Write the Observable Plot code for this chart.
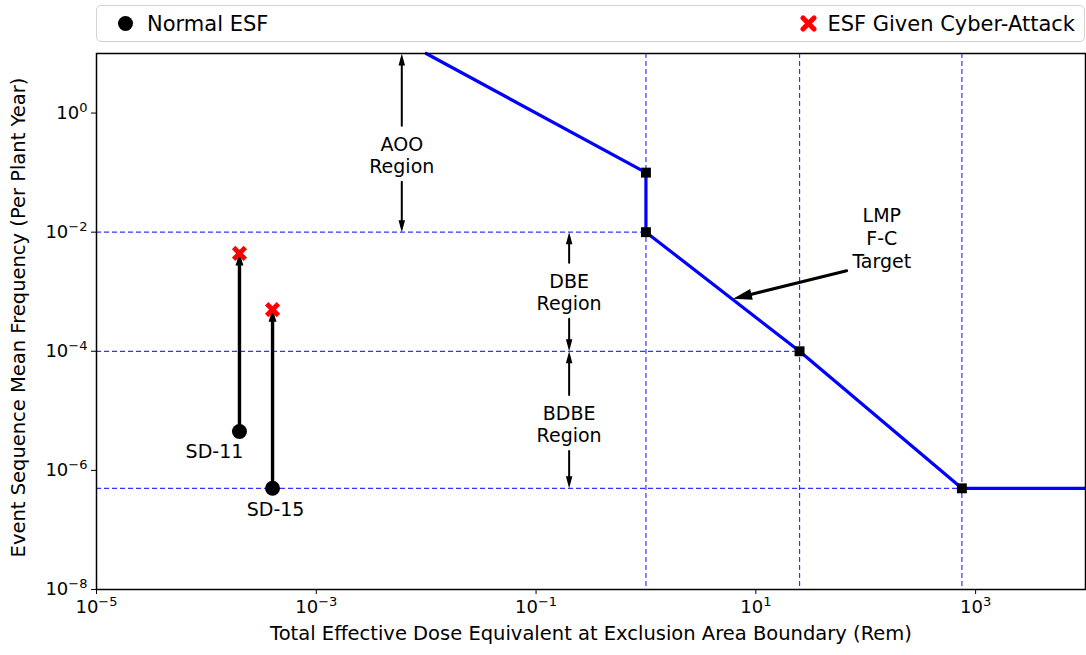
<!DOCTYPE html>
<html>
<head>
<meta charset="utf-8">
<script src="https://cdn.jsdelivr.net/npm/d3@7"></script>
<script src="https://cdn.jsdelivr.net/npm/@observablehq/plot@0.6"></script>
<style>
  html, body { margin: 0; padding: 0; background: #fff; }
  body { font-family: "DejaVu Sans", sans-serif; width: 1086px; height: 655px; position: relative; overflow: hidden; }
  #legend { position: absolute; left: 96px; top: 5px; width: 989px; height: 37px; box-sizing: border-box;
    border: 1.5px solid #d3d3d3; border-radius: 5px; display: flex; justify-content: space-between; align-items: center;
    font-size: 21px; color: #000; }
  #legend .item { display: flex; align-items: center; }
  #legend .left { padding-left: 20px; }
  #legend .left svg { margin-right: 13px; }
  #legend .right { padding-right: 9px; }
  #legend .right svg { margin-right: 10px; }
  #chart { position: absolute; left: 0; top: 46px; }
</style>
</head>
<body>
<div id="legend">
  <span class="item left"><svg width="17" height="17"><circle cx="8.5" cy="8.5" r="7.5" fill="black"/></svg>Normal ESF</span>
  <span class="item right"><svg width="17" height="17"><path d="M3,3L14,14M14,3L3,14" stroke="red" stroke-width="5" stroke-linecap="round"/></svg>ESF Given Cyber-Attack</span>
</div>
<div id="chart"></div>
<script>
// ---- Data ----
const scenarios = ["SD-11", "SD-15"];
const scenarioDose = [2e-4, 4e-4];          // rem
const normalFreq = [4.5e-6, 5e-7];          // per plant year
const cyberFreq = [4.4e-3, 5e-4];

// LMP frequency-consequence target curve
const fcDose = [0.01, 1, 1, 25, 750, 1e4];
const fcFreq = [10, 0.1, 0.01, 1e-4, 5e-7, 5e-7];
const cornerDose = [1, 1, 25, 750];
const cornerFreq = [0.1, 0.01, 1e-4, 5e-7];

// Region boundaries (dashed reference lines)
const boundaryFreq = [1e-2, 1e-4, 5e-7];
const boundaryDose = [1, 25, 750];

// Region annotations
const regionLabels = ["AOO\nRegion", "DBE\nRegion", "BDBE\nRegion"];
const regionDose = [0.006, 0.2, 0.2];
const regionMid = [0.2, 1e-3, 6e-6];
const regionTop = [10, 1e-2, 1e-4];
const regionBottom = [1e-2, 1e-4, 5e-7];

// LMP F-C target annotation
const lmpLabel = "LMP\nF-C\nTarget";
const lmpTextPos = [140, 8e-3];
const lmpArrowTail = [67, 2.25e-3];
const lmpArrowTip = [6.2, 7.6e-4];

const xTicks = [1e-5, 1e-3, 1e-1, 1e1, 1e3];
const yTicks = [1e0, 1e-2, 1e-4, 1e-6, 1e-8];
const xLabel = "Total Effective Dose Equivalent at Exclusion Area Boundary (Rem)";
const yLabel = "Event Sequence Mean Frequency (Per Plant Year)";

// ---- Tables ----
const pow10 = d => "10^" + Math.round(Math.log10(d));

const sd = scenarios.map((s, i) => ({s, x: scenarioDose[i], y0: normalFreq[i], y1: cyberFreq[i]}));
const fc = fcDose.map((x, i) => ({x, y: fcFreq[i]}));
const corners = cornerDose.map((x, i) => ({x, y: cornerFreq[i]}));
const hBounds = boundaryFreq.map((y, i) => ({y, x1: xTicks[0], x2: boundaryDose[i]}));
const regions = regionLabels.map((t, i) => ({t, x: regionDose[i], mid: regionMid[i], top: regionTop[i], bottom: regionBottom[i]}));
const lmp = [{x1: lmpArrowTail[0], y1: lmpArrowTail[1], x2: lmpArrowTip[0], y2: lmpArrowTip[1], tx: lmpTextPos[0], ty: lmpTextPos[1], t: lmpLabel}];

// filled arrowhead symbols (tip at the anchor point)
function head(L, W, ux, uy) { // (ux,uy): unit vector from tip toward the tail
  const px = -uy, py = ux;
  return {draw(ctx) {
    ctx.moveTo(0, 0);
    ctx.lineTo(L * ux + W / 2 * px, L * uy + W / 2 * py);
    ctx.lineTo(L * ux - W / 2 * px, L * uy - W / 2 * py);
    ctx.closePath();
  }};
}
const headUp = head(12, 6.5, 0, 1);
const headDown = head(12, 6.5, 0, -1);
const headUpBig = head(12, 8, 0, 1);
const headLmp = head(19, 11, 0.971, -0.2385);

const blueDash = {stroke: "#0000ff", strokeOpacity: 0.8, strokeWidth: 1.2, strokeDasharray: "5,3"};
const font = 19;

const chart = Plot.plot({
  width: 1086,
  height: 609,
  marginTop: 7,
  marginBottom: 66,
  marginLeft: 96,
  marginRight: 1,
  x: {type: "log", domain: [1e-5, 1e4]},
  y: {type: "log", domain: [1e-8, 10]},
  style: {fontFamily: "DejaVu Sans", fontSize: "18px", color: "black", background: "white"},
  marks: [
    Plot.ruleY(hBounds, {y: "y", x1: "x1", x2: "x2", ...blueDash}),
    Plot.ruleX(boundaryDose, {...blueDash}),
    Plot.line(fc, {x: "x", y: "y", stroke: "#0000ff", strokeWidth: 3.2}),
    Plot.dot(corners, {x: "x", y: "y", symbol: "square", fill: "black", r: 5.6}),
    // region arrows
    Plot.arrow(regions, {x1: "x", y1: "mid", x2: "x", y2: "top", insetStart: 29, insetEnd: 5, headLength: 0, stroke: "black", strokeWidth: 2}),
    Plot.arrow(regions, {x1: "x", y1: "mid", x2: "x", y2: "bottom", insetStart: 27, insetEnd: 5, headLength: 0, stroke: "black", strokeWidth: 2}),
    Plot.dot(regions, {x: "x", y: "top", symbol: headUp, fill: "black", stroke: "none"}),
    Plot.dot(regions, {x: "x", y: "bottom", symbol: headDown, fill: "black", stroke: "none"}),
    Plot.text(regions, {x: "x", y: "mid", text: "t", fontSize: font, lineHeight: 1.17, fill: "black"}),
    // LMP annotation
    Plot.arrow(lmp, {x1: "x1", y1: "y1", x2: "x2", y2: "y2", insetEnd: 10, headLength: 0, stroke: "black", strokeWidth: 3}),
    Plot.dot(lmp, {x: "x2", y: "y2", symbol: headLmp, fill: "black", stroke: "none"}),
    Plot.text(lmp, {x: "tx", y: "ty", text: "t", fontSize: font, lineHeight: 1.2, fill: "black"}),
    // scenario arrows
    Plot.arrow(sd, {x1: "x", y1: "y0", x2: "x", y2: "y1", insetEnd: 6, headLength: 0, stroke: "black", strokeWidth: 3.4}),
    Plot.dot(sd, {x: "x", y: "y1", symbol: headUpBig, fill: "black", stroke: "none"}),
    Plot.dot(sd, {x: "x", y: "y0", r: 7.5, fill: "black"}),
    Plot.dot(sd, {x: "x", y: "y1", symbol: "times", r: 5.4, stroke: "red", strokeWidth: 4.8}),
    Plot.text(sd.slice(0, 1), {x: "x", y: "y0", text: "s", dx: -25, dy: 20, fontSize: font, fill: "black"}),
    Plot.text(sd.slice(1, 2), {x: "x", y: "y0", text: "s", dx: 3, dy: 22, fontSize: font, fill: "black"}),
    // axes
    Plot.axisX({ticks: xTicks, tickFormat: pow10, tickSize: 5, tickPadding: 6, label: null, fontSize: 18}),
    Plot.axisY({ticks: yTicks, tickFormat: pow10, tickSize: 5, tickPadding: 4, label: null, fontSize: 18}),
    Plot.text([xLabel], {frameAnchor: "bottom", text: d => d, dy: 50, fontSize: 19.5, fill: "black"}),
    Plot.text([yLabel], {frameAnchor: "left", text: d => d, rotate: -90, textAnchor: "middle", dx: -78, dy: -4, fontSize: 19.5, fill: "black"}),
    Plot.frame({stroke: "black", strokeWidth: 1.5})
  ]
});

// render tick labels as 10 with a raised exponent, like the reference
const ns = "http://www.w3.org/2000/svg";
chart.querySelectorAll('g[aria-label$="tick label"] text').forEach(t => {
  const m = t.textContent.match(/^10\^(-?\d+)$/);
  if (!m) return;
  t.textContent = "";
  const a = document.createElementNS(ns, "tspan");
  a.textContent = "10";
  const b = document.createElementNS(ns, "tspan");
  b.textContent = m[1].replace("-", "\u2212");
  b.setAttribute("font-size", "13");
  b.setAttribute("dy", "-7");
  t.append(a, b);
});
document.getElementById("chart").appendChild(chart);
</script>
</body>
</html>
